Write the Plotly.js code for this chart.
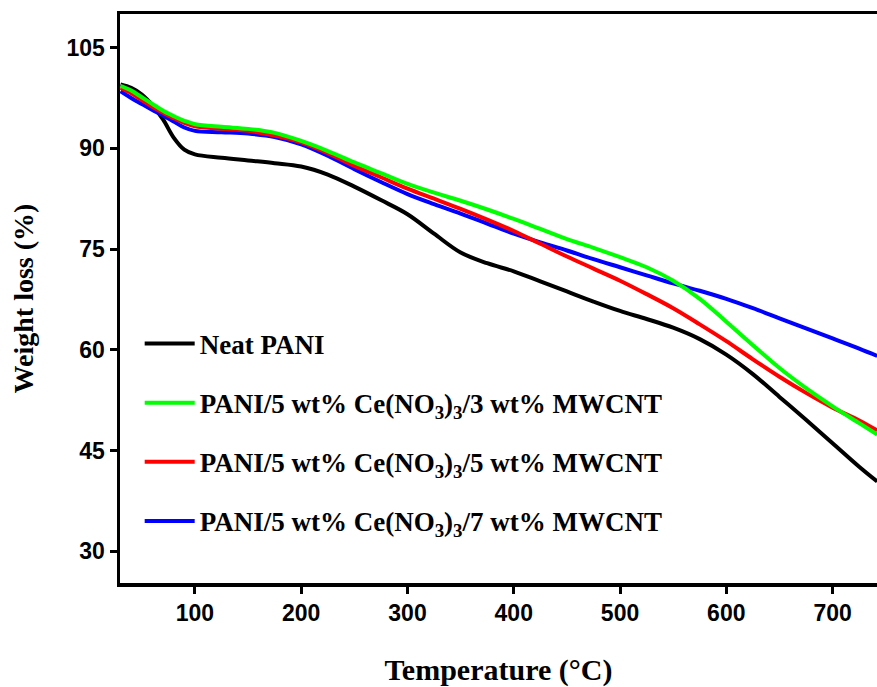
<!DOCTYPE html>
<html>
<head>
<meta charset="utf-8">
<script src="https://cdn.plot.ly/plotly-3.0.1.min.js"></script>
<style>html,body{margin:0;padding:0;background:#fff;}#chart{width:877px;height:687px;}</style>
</head>
<body>
<div id="chart"></div>
<script>
const temperature = [30, 40, 50, 60, 70, 80, 90, 100, 125, 150, 175, 200, 225, 250, 275, 300, 325, 350, 375, 400, 425, 450, 475, 500, 525, 550, 575, 600, 625, 650, 675, 700, 725, 742];
const neatPANI = [99.5, 99.0, 98.0, 96.4, 94.3, 91.6, 89.8, 89.1, 88.6, 88.2, 87.8, 87.3, 86.1, 84.3, 82.3, 80.2, 77.3, 74.5, 72.9, 71.7, 70.2, 68.7, 67.2, 65.8, 64.6, 63.3, 61.6, 59.3, 56.4, 53.0, 49.6, 46.1, 42.6, 40.4];
const cnt3     = [99.3, 98.6, 97.6, 96.6, 95.6, 94.8, 94.1, 93.6, 93.2, 92.9, 92.3, 91.1, 89.6, 87.9, 86.3, 84.7, 83.4, 82.2, 80.9, 79.5, 78.0, 76.5, 75.2, 73.8, 72.3, 70.3, 67.6, 64.2, 60.7, 57.3, 54.3, 51.6, 49.1, 47.4];
const cnt5     = [99.0, 98.2, 97.2, 96.2, 95.3, 94.5, 93.8, 93.3, 92.9, 92.6, 91.9, 90.9, 89.3, 87.4, 85.7, 84.0, 82.5, 81.0, 79.4, 77.7, 75.8, 73.9, 72.1, 70.3, 68.3, 66.2, 63.8, 61.3, 58.6, 56.0, 53.6, 51.4, 49.5, 48.0];
const cnt7     = [98.5, 97.5, 96.6, 95.7, 94.9, 94.0, 93.1, 92.6, 92.4, 92.2, 91.7, 90.6, 88.9, 86.9, 85.0, 83.2, 81.7, 80.3, 78.8, 77.3, 76.0, 74.8, 73.5, 72.3, 71.1, 69.9, 68.8, 67.6, 66.2, 64.7, 63.2, 61.7, 60.2, 59.1];
const seriesNames = [
  'Neat PANI',
  'PANI/5 wt% Ce(NO<sub>3</sub>)<sub>3</sub>/3 wt% MWCNT',
  'PANI/5 wt% Ce(NO<sub>3</sub>)<sub>3</sub>/5 wt% MWCNT',
  'PANI/5 wt% Ce(NO<sub>3</sub>)<sub>3</sub>/7 wt% MWCNT'
];
const seriesColors = ['#000000', '#00ff00', '#ff0000', '#0000ff'];
const seriesValues = [neatPANI, cnt3, cnt5, cnt7];
const xTicks = [100, 200, 300, 400, 500, 600, 700];
const yTicks = [30, 45, 60, 75, 90, 105];

const drawOrder = [0, 3, 2, 1];
const traces = drawOrder.map(i => ({
  x: temperature,
  y: seriesValues[i],
  name: seriesNames[i],
  mode: 'lines',
  line: {color: seriesColors[i], width: 4, shape: 'spline', smoothing: 1},
  legendgroup: 'g' + i,
  legendrank: i + 1
}));

const sans = '"Liberation Sans", Arial, sans-serif';
const serif = '"Liberation Serif", "Times New Roman", serif';

const layout = {
  width: 877, height: 687,
  margin: {l: 120, r: 0, t: 14, b: 104},
  paper_bgcolor: '#fff', plot_bgcolor: '#fff',
  showlegend: true,
  legend: {
    x: 0.026, y: 0.463, xanchor: 'left', yanchor: 'top',
    bgcolor: 'rgba(0,0,0,0)',
    font: {family: serif, size: 27, color: '#000', weight: 'bold'},
    tracegroupgap: 21,
    traceorder: 'grouped',
    itemwidth: 50
  },
  xaxis: {
    range: [29.5, 741.8],
    tickvals: xTicks,
    ticks: 'outside', ticklen: 7, tickwidth: 3, tickcolor: '#000',
    showline: true, linewidth: 3.5, linecolor: '#000', mirror: true,
    showgrid: false, zeroline: false,
    tickfont: {family: sans, size: 23, color: '#000', weight: 'bold'},
    automargin: false,
    title: {text: 'Temperature (°C)', font: {family: serif, size: 30, color: '#000', weight: 'bold'}, standoff: 40}
  },
  yaxis: {
    range: [25.3, 110],
    tickvals: yTicks,
    ticks: 'outside', ticklen: 7, tickwidth: 3, tickcolor: '#000',
    showline: true, linewidth: 3.5, linecolor: '#000', mirror: false,
    showgrid: false, zeroline: false,
    tickfont: {family: sans, size: 23, color: '#000', weight: 'bold'},
    automargin: false,
    title: {text: 'Weight loss (%)', font: {family: serif, size: 28, color: '#000', weight: 'bold'}, standoff: 25}
  }
};

Plotly.newPlot('chart', traces, layout, {displayModeBar: false, staticPlot: true});
</script>
</body>
</html>
